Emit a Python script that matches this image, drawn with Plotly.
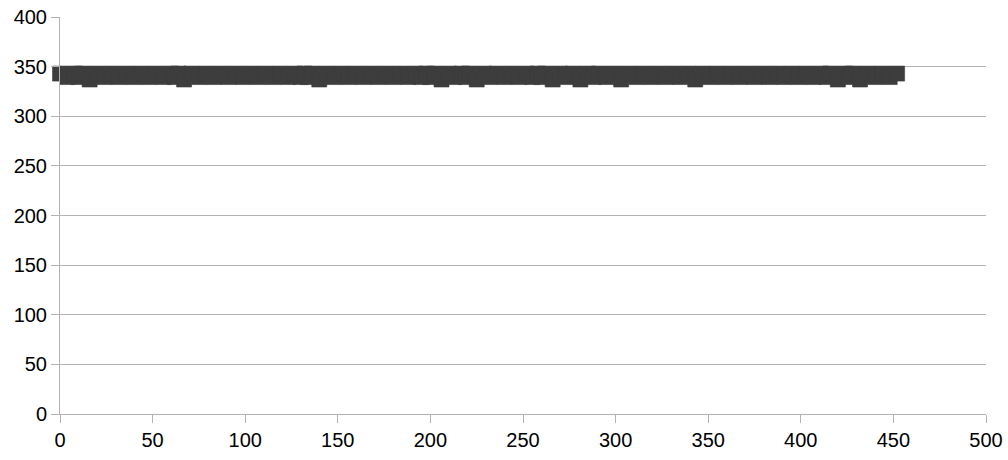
import plotly.graph_objects as go

# Readings (x position, value); H~343, L~339.5, dips ~337
x_values = [
    0, 4, 8, 10, 12, 16, 20, 24, 28, 32,
    36, 40, 44, 48, 52, 56, 60, 62, 64, 67,
    71, 75, 79, 83, 87, 91, 95, 99, 103, 107,
    111, 115, 119, 123, 127, 130, 132, 134, 136, 140,
    144, 148, 152, 156, 160, 164, 168, 172, 176, 180,
    184, 188, 192, 195, 198, 200, 202, 206, 210, 213,
    217, 219, 221, 225, 229, 232, 236, 240, 244, 248,
    252, 255, 258, 260, 262, 266, 270, 273, 277, 281,
    285, 288, 291, 295, 299, 303, 307, 311, 315, 319,
    323, 327, 331, 335, 339, 343, 347, 351, 355, 359,
    363, 367, 371, 375, 379, 383, 387, 391, 395, 399,
    403, 407, 411, 414, 416, 420, 424, 426, 428, 432,
    436, 440, 444, 448, 452,
]
y_values = [
    343.0, 339.5, 343.0, 339.5, 343.0, 337.0, 343.0, 339.5, 343.0, 339.5,
    343.0, 339.5, 343.0, 339.5, 343.0, 339.5, 343.0, 339.5, 343.0, 337.0,
    343.0, 339.5, 343.0, 339.5, 343.0, 339.5, 343.0, 339.5, 343.0, 339.5,
    343.0, 339.5, 343.0, 339.5, 343.0, 339.5, 343.0, 339.5, 343.0, 337.0,
    343.0, 339.5, 343.0, 339.5, 343.0, 339.5, 343.0, 339.5, 343.0, 339.5,
    343.0, 339.5, 343.0, 339.5, 343.0, 339.5, 343.0, 337.0, 343.0, 339.5,
    343.0, 339.5, 343.0, 337.0, 343.0, 339.5, 343.0, 339.5, 343.0, 339.5,
    343.0, 339.5, 343.0, 339.5, 343.0, 337.0, 343.0, 339.5, 343.0, 337.0,
    343.0, 339.5, 343.0, 339.5, 343.0, 337.0, 343.0, 339.5, 343.0, 339.5,
    343.0, 339.5, 343.0, 339.5, 343.0, 337.0, 343.0, 339.5, 343.0, 339.5,
    343.0, 339.5, 343.0, 339.5, 343.0, 339.5, 343.0, 339.5, 343.0, 339.5,
    343.0, 339.5, 343.0, 339.5, 343.0, 337.0, 343.0, 339.5, 343.0, 337.0,
    343.0, 339.5, 343.0, 339.5, 343.0,
]

x_ticks = [0, 50, 100, 150, 200, 250, 300, 350, 400, 450, 500]
y_ticks = [0, 50, 100, 150, 200, 250, 300, 350, 400]

fig = go.Figure()
fig.add_trace(go.Scatter(
    x=x_values, y=y_values, mode="markers",
    marker=dict(symbol="square", size=15, color="#3d3d3d",
                line=dict(width=0.6, color="#3d3d3d")),
    cliponaxis=False, showlegend=False, hoverinfo="x+y",
))

axis_font = dict(family="Liberation Sans, Arial, sans-serif", size=20, color="#000000")
fig.update_layout(
    width=1008, height=460,
    margin=dict(l=60, r=22, t=17, b=46),
    paper_bgcolor="#ffffff", plot_bgcolor="#ffffff",
    font=axis_font,
    xaxis=dict(range=[0, 500.0001], tickvals=x_ticks, showgrid=False, zeroline=False,
               showline=True, linecolor="#b3b3b3", linewidth=1, automargin=False,
               ticks="outside", ticklen=8, tickcolor="#b3b3b3", tickfont=axis_font),
    yaxis=dict(range=[0, 400.0001], tickvals=y_ticks, showgrid=True, gridcolor="#b3b3b3",
               gridwidth=1, zeroline=False, showline=True, linecolor="#b3b3b3", linewidth=1,
               automargin=False,
               ticks="outside", ticklen=8, tickcolor="#b3b3b3", tickfont=axis_font),
)
# remove the default page margin so the figure fills the window exactly
fig.write_html(
    "out.html",
    config={"displayModeBar": False},
    post_script="document.body.style.margin='0';document.body.style.overflow='hidden';",
)
